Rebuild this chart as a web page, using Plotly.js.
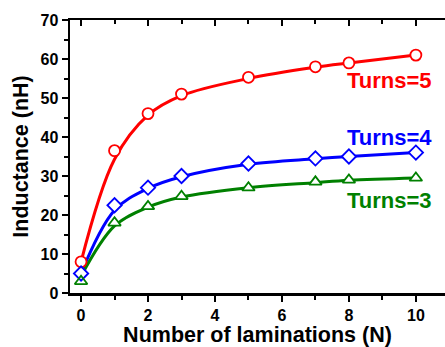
<!DOCTYPE html>
<html>
<head>
<meta charset="utf-8">
<script src="https://cdn.plot.ly/plotly-3.0.1.min.js"></script>
<style>html,body{margin:0;padding:0;background:#fff;}#chart{width:445px;height:347px;}</style>
</head>
<body>
<div id="chart"></div>
<script>
// Number of laminations
const laminations = [0, 1, 2, 3, 5, 7, 8, 10];
// Measured inductance (nH)
const turns5 = [8, 36.5, 46, 51, 55.3, 58, 59, 61];
const turns4 = [5, 22.5, 27, 30, 33.2, 34.5, 35, 36];
const turns3 = [3, 18, 22.2, 24.8, 27, 28.5, 29, 29.5];
// Fitted curves
const fit5 = [8, 34.3, 45.6, 50.6, 55, 57.9, 59, 61];
const fit4 = [5, 21.2, 26.8, 29.8, 33, 34.4, 35, 36];
const fit3 = [4.3, 17.2, 22, 24.6, 27, 28.3, 28.9, 29.5];
const seriesNames = ['Turns=5', 'Turns=4', 'Turns=3'];
const colors = ['#ff0000', '#0000ff', '#008000'];
const symbols = ['circle-open', 'diamond-open', 'triangle-up-open'];

const data = [];
const meas = [turns5, turns4, turns3];
const fits = [fit5, fit4, fit3];
for (let i = 0; i < 3; i++) {
  data.push({x: laminations, y: fits[i], mode: 'lines', type: 'scatter',
    line: {color: colors[i], width: 3, shape: 'spline', smoothing: 1}, hoverinfo: 'skip', showlegend: false});
}
// white backing for open markers
for (let i = 0; i < 3; i++) {
  data.push({x: laminations, y: meas[i], mode: 'markers', type: 'scatter',
    marker: {symbol: symbols[i].replace('-open', ''), color: '#ffffff', size: 10}, showlegend: false, hoverinfo: 'skip'});
}
for (let i = 0; i < 3; i++) {
  data.push({x: laminations, y: meas[i], mode: 'markers', type: 'scatter', name: seriesNames[i],
    marker: {symbol: symbols[i], color: colors[i], size: 11, line: {width: 1.8, color: colors[i]}},
    showlegend: false});
}

const font = {family: 'Liberation Sans, Arial, sans-serif', color: '#000'};
const xr = [-0.33, 10.87];
const layout = {
  width: 445, height: 347,
  margin: {l: 70, r: 0, t: 20, b: 54},
  paper_bgcolor: '#fff', plot_bgcolor: '#fff',
  showlegend: false,
  font: font,
  xaxis: {
    range: xr, tickvals: [0, 2, 4, 6, 8, 10], ticktext: ['<b>0</b>', '<b>2</b>', '<b>4</b>', '<b>6</b>', '<b>8</b>', '<b>10</b>'],
    ticks: 'outside', ticklen: 6, tickwidth: 2, tickcolor: '#000',
    minor: {tickvals: [1, 3, 5, 7, 9], ticks: 'outside', ticklen: 4, tickwidth: 2, tickcolor: '#000'},
    showline: true, linewidth: 2.5, linecolor: '#000', showgrid: false, zeroline: false,
    tickfont: {family: font.family, size: 16, color: '#000'},
    title: {text: '<b>Number of laminations (N)</b>', font: {family: font.family, size: 21.5, color: '#000'}, standoff: 4}
  },
  xaxis2: {
    range: xr, overlaying: 'x', side: 'top', matches: 'x', showticklabels: false,
    tickvals: [0, 2, 4, 6, 8, 10], ticks: 'inside', ticklen: 6, tickwidth: 2, tickcolor: '#000',
    minor: {tickvals: [1, 3, 5, 7, 9], ticks: 'inside', ticklen: 4, tickwidth: 2, tickcolor: '#000'},
    showline: true, linewidth: 2.5, linecolor: '#000', showgrid: false, zeroline: false
  },
  yaxis: {
    range: [0, 70], tickvals: [0, 10, 20, 30, 40, 50, 60, 70],
    ticktext: ['<b>0</b>', '<b>10</b>', '<b>20</b>', '<b>30</b>', '<b>40</b>', '<b>50</b>', '<b>60</b>', '<b>70</b>'],
    ticks: 'outside', ticklen: 6, tickwidth: 2, tickcolor: '#000',
    minor: {tickvals: [5, 15, 25, 35, 45, 55, 65], ticks: 'outside', ticklen: 4, tickwidth: 2, tickcolor: '#000'},
    showline: true, linewidth: 2.5, linecolor: '#000', showgrid: false, zeroline: false,
    tickfont: {family: font.family, size: 16, color: '#000'},
    title: {text: '<b>Inductance (nH)</b>', font: {family: font.family, size: 21.5, color: '#000'}, standoff: 6}
  },
  annotations: [
    {x: 9.22, y: 54.6, text: '<b>Turns=5</b>', showarrow: false, font: {family: font.family, size: 22, color: colors[0]}},
    {x: 9.22, y: 40, text: '<b>Turns=4</b>', showarrow: false, font: {family: font.family, size: 22, color: colors[1]}},
    {x: 9.2, y: 23.6, text: '<b>Turns=3</b>', showarrow: false, font: {family: font.family, size: 22, color: colors[2]}}
  ]
};
// dummy trace to activate top axis
data.push({x: [0], y: [0], xaxis: 'x2', mode: 'markers', marker: {opacity: 0}, hoverinfo: 'skip', showlegend: false});
Plotly.newPlot('chart', data, layout, {displayModeBar: false, staticPlot: true});
</script>
</body>
</html>
